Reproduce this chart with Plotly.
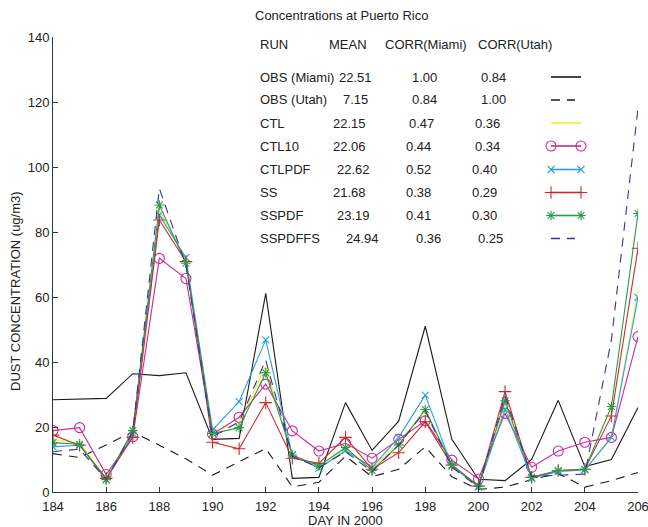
import plotly.graph_objects as go

# ---------------- data ----------------
days = list(range(184, 207))

obs_miami = [28.4, 28.5, 28.8, 36.4, 35.8, 36.7, 16.2, 16.5, 61.1, 4.2, 4.5, 27.5,
             12.8, 21.8, 51.0, 16.2, 3.9, 3.5, 10.0, 28.2, 7.8, 10.0, 26.0]
obs_utah = [11.8, 10.6, 14.5, 18.5, 14.4, 10.2, 5.2, 9.3, 13.4, 1.6, 3.0, 11.0,
            4.7, 7.0, 13.9, 4.7, 0.8, 1.5, 3.8, 5.7, 1.5, 3.5, 6.0]
ctl = [16.2, 15.0, 4.2, 18.5, 86.8, 71.4, 18.6, 21.1, 38.8, 11.2, 7.8, 13.2,
       7.0, 15.5, 24.7, 8.3, 2.0, 26.8, 4.6, 6.4, 6.8, 16.5, 62.0]
ctl10 = [18.9, 19.8, 5.4, 17.0, 71.9, 65.7, 17.8, 23.0, 33.2, 18.8, 12.6, 15.0,
         10.4, 16.2, 21.9, 9.8, 4.0, 24.2, 7.6, 12.6, 15.3, 16.8, 47.8]
ctlpdf = [13.9, 14.4, 3.8, 18.0, 85.2, 72.1, 19.1, 27.8, 46.8, 11.4, 7.3, 12.7,
          7.6, 16.8, 29.8, 8.0, 1.5, 25.4, 4.2, 6.3, 6.8, 16.8, 59.9]
ss = [17.5, 14.4, 4.2, 16.8, 83.7, 70.9, 15.3, 13.3, 27.5, 10.4, 8.8, 16.8,
      7.0, 12.1, 21.6, 8.3, 1.8, 30.9, 4.5, 6.6, 7.0, 23.4, 75.0]
sspdf = [15.2, 14.7, 3.8, 18.9, 88.3, 70.4, 18.0, 19.8, 36.7, 11.4, 8.0, 13.7,
         6.6, 14.5, 25.4, 8.3, 1.8, 28.1, 4.5, 6.6, 7.0, 26.3, 85.7]
sspdffs = [12.4, 13.2, 3.8, 18.5, 93.4, 69.8, 17.0, 21.6, 40.6, 11.0, 7.5, 12.4,
           6.3, 14.5, 25.0, 7.6, 1.5, 29.5, 4.8, 5.2, 5.5, 46.8, 118.0]

run_names = ["OBS (Miami)", "OBS (Utah)", "CTL", "CTL10", "CTLPDF", "SS", "SSPDF", "SSPDFFS"]
means = ["22.51", "7.15", "22.15", "22.06", "22.62", "21.68", "23.19", "24.94"]
corr_miami = ["1.00", "0.84", "0.47", "0.44", "0.52", "0.38", "0.41", "0.36"]
corr_utah = ["0.84", "1.00", "0.36", "0.34", "0.40", "0.29", "0.30", "0.25"]

x_ticks = list(range(184, 207, 2))
y_ticks = list(range(0, 141, 20))

# ---------------- styles ----------------
series = [obs_miami, obs_utah, ctl, ctl10, ctlpdf, ss, sspdf, sspdffs]
colors = ["#1a1a1a", "#1a1a1a", "#f2ee3a", "#cc2a92", "#2f9fe0", "#cc2b2b", "#2e9a48", "#35359a"]
dashes = ["solid", "9px,7px", "solid", "solid", "solid", "solid", "solid", "9px,7px"]
symbols = [None, None, None, "circle-open", "x-thin-open", "cross-thin-open", "asterisk-open", None]
msizes = [0, 0, 0, 10, 7, 9, 8, 0]

W, H = 648, 527
L, R, T, B = 53, 10, 37, 35
plot_w = W - L - R
plot_h = H - T - B


def px(x):
    return (x - L) / plot_w


def py(y):
    return (H - B - y) / plot_h


fig = go.Figure()

for i, s in enumerate(series):
    tr = dict(x=days, y=s, name=run_names[i], showlegend=False,
              line=dict(color=colors[i], width=1.1, dash=dashes[i]))
    if symbols[i]:
        tr["mode"] = "lines+markers"
        tr["marker"] = dict(symbol=symbols[i], size=msizes[i], color=colors[i],
                            line=dict(color=colors[i], width=1.1))
    else:
        tr["mode"] = "lines"
    fig.add_trace(go.Scatter(**tr))

# legend samples, drawn in a pixel-space overlay axis
row_y = [77, 100, 123, 146, 169.5, 192.5, 215.5, 238.5]
for i in range(len(series)):
    if dashes[i] != "solid":
        xs = [551, 575]
    else:
        xs = [551, 581]
    tr = dict(x=xs, y=[row_y[i], row_y[i]], xaxis="x2", yaxis="y2", showlegend=False,
              hoverinfo="skip",
              line=dict(color=colors[i], width=1.6, dash=dashes[i]))
    if symbols[i]:
        tr["mode"] = "lines+markers"
        tr["marker"] = dict(symbol=symbols[i], size=msizes[i], color=colors[i],
                            line=dict(color=colors[i], width=1.1))
    else:
        tr["mode"] = "lines"
    fig.add_trace(go.Scatter(**tr))

FONT = "Liberation Sans, Arial, Helvetica, sans-serif"
TXT = "#222222"
ann = []


def text(x, y, s, size=13, anchor="left", angle=0):
    ann.append(dict(x=px(x), y=py(y), xref="paper", yref="paper", text=s,
                    showarrow=False, xanchor=anchor, yanchor="middle", textangle=angle,
                    font=dict(family=FONT, size=size, color=TXT)))


text(341, 16, "Concentrations at Puerto Rico", anchor="center")
text(258, 44.5, "RUN")
text(327, 44.5, "MEAN")
text(383, 44.5, "CORR(Miami)")
text(476, 44.5, "CORR(Utah)")

mean_x = [336.5, 340.5, 330.5, 330.5, 335, 330.5, 335, 344]
cm_x = [410, 410, 406.5, 403.5, 404, 403.5, 404, 413.5]
cu_x = [479, 479, 472.5, 472.5, 470, 469.5, 470, 476]
for i in range(len(run_names)):
    text(258, row_y[i], run_names[i])
    text(mean_x[i], row_y[i], means[i])
    text(cm_x[i], row_y[i], corr_miami[i])
    text(cu_x[i], row_y[i], corr_utah[i])

text(15, 291, "DUST CONCENTRATION (ug/m3)", anchor="center", angle=-90)
text(345, 520, "DAY IN 2000", anchor="center")

axis_common = dict(showline=True, linecolor="#333333", linewidth=1, mirror=False,
                   ticks="inside", ticklen=5, tickcolor="#333333", tickwidth=1,
                   showgrid=False, zeroline=False, ticklabeloverflow="allow",
                   automargin=False,
                   tickfont=dict(family=FONT, size=13, color=TXT))

fig.update_layout(
    width=W, height=H,
    margin=dict(l=L, r=R, t=T, b=B, pad=0, autoexpand=False),
    paper_bgcolor="white", plot_bgcolor="white",
    showlegend=False,
    xaxis=dict(range=[184, 206], tickvals=x_ticks, ticklabelstandoff=2, **axis_common),
    yaxis=dict(range=[0, 140], tickvals=y_ticks, **axis_common),
    xaxis2=dict(range=[L, W - R], overlaying="x", visible=False, fixedrange=True),
    yaxis2=dict(range=[H - B, T], overlaying="y", visible=False, fixedrange=True),
    annotations=ann,
)

fig.write_html("out.html")
